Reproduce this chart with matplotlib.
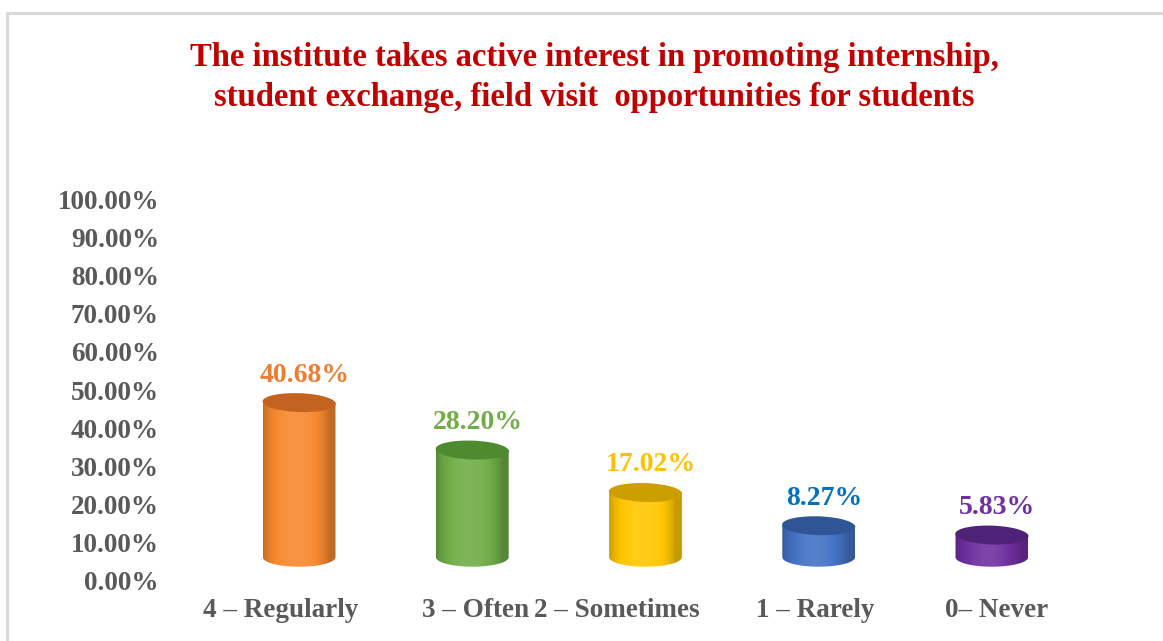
import numpy as np
import matplotlib
matplotlib.use("Agg")
import matplotlib.pyplot as plt
from matplotlib.colors import to_rgb
from matplotlib.lines import Line2D
from matplotlib.patches import Ellipse, Polygon
from matplotlib.transforms import ScaledTranslation

categories = ["4 – Regularly", "3 – Often", "2 – Sometimes", "1 – Rarely", "0– Never"]
values = [40.68, 28.20, 17.02, 8.27, 5.83]
value_labels = ["40.68%", "28.20%", "17.02%", "8.27%", "5.83%"]
y_ticks = [0, 10, 20, 30, 40, 50, 60, 70, 80, 90, 100]

side_colors = ["#F7892F", "#70AD47", "#FFC700", "#4472C4", "#7030A0"]
top_colors = ["#C4631F", "#4E8A30", "#CC9E00", "#2F5597", "#4E2277"]
label_colors = ["#ED7D31", "#70AD47", "#FFC000", "#0070C0", "#7030A0"]
# small horizontal nudges (px) of the category labels, as laid out in the original
label_shift_px = [-19, 3, -29, -3, 5]

TITLE = ("The institute takes active interest in promoting internship,\n"
         "student exchange, field visit  opportunities for students")

FLOOR = 6.0      # 3D floor offset in data units
BAR_W = 0.42     # cylinder width in category units
ELL_H = 5.0      # ellipse height in data units
GRAY = "#595959"

W, H = 1163, 641
fig = plt.figure(figsize=(W / 100, H / 100), dpi=100)
fig.patch.set_facecolor("white")

# axes placed in pixel terms
ax_left, ax_right, ax_top, ax_bottom = 170, 1120, 200, 580
ax = fig.add_axes([ax_left / W, 1 - ax_bottom / H, (ax_right - ax_left) / W, (ax_bottom - ax_top) / H])
ax.set_facecolor("none")

font = "Liberation Serif"


def shade(color, factor):
    r, g, b = to_rgb(color)
    if factor >= 1:
        return tuple(c + (1 - c) * (factor - 1) for c in (r, g, b))
    return tuple(c * factor for c in (r, g, b))


def draw_cylinder(ax, x, val, side, top):
    left, right = x - BAR_W / 2, x + BAR_W / 2
    y0, y1 = FLOOR, FLOOR + val
    t = np.linspace(0, 1, 200)
    # brightness profile across the cylinder
    prof = 0.78 + 0.32 * np.sin(np.pi * np.clip(t * 1.1, 0, 1)) ** 0.7
    img = np.array([[shade(side, f) for f in prof]])
    img = np.clip(img, 0, 1)

    ang = np.linspace(np.pi, 2 * np.pi, 60)
    arc_x = x + BAR_W / 2 * np.cos(ang)
    arc_y = y0 + ELL_H / 2 * np.sin(ang)
    pts = [(left, y1)] + list(zip(arc_x, arc_y)) + [(right, y1)]
    clip = Polygon(pts, closed=True, facecolor="none", edgecolor="none", transform=ax.transData)
    ax.add_patch(clip)
    im = ax.imshow(img, extent=(left, right, y0 - ELL_H / 2, y1), aspect="auto",
                   interpolation="bilinear", zorder=2)
    im.set_clip_path(clip)
    ax.add_patch(Ellipse((x, y1), BAR_W, ELL_H, angle=0.6, facecolor=top, edgecolor="none", zorder=3))


for i, (v, s, tc) in enumerate(zip(values, side_colors, top_colors)):
    draw_cylinder(ax, i, v, s, tc)
    ax.annotate(value_labels[i], xy=(i + 0.03, FLOOR + v + ELL_H / 2), xytext=(0, 4),
                textcoords="offset points", ha="center", va="bottom",
                fontsize=20, fontweight="bold", color=label_colors[i], family=font)

x_left = -(299 - ax_left) / 173
x_right = 4 + (ax_right - 992) / 173
ax.set_xlim(x_left, x_right)
ax.set_ylim(0, 100)

ax.set_yticks(y_ticks)
ax.set_yticklabels([f"{t:.2f}%" for t in y_ticks])
ax.set_xticks(range(len(categories)))
ax.set_xticklabels(categories)
ax.tick_params(axis="both", length=0, colors=GRAY)
ax.tick_params(axis="y", pad=8)
ax.tick_params(axis="x", pad=13)
for lab in ax.get_yticklabels() + ax.get_xticklabels():
    lab.set_fontfamily(font)
    lab.set_fontweight("bold")
    lab.set_fontsize(19.5)
for lab, dx in zip(ax.get_xticklabels(), label_shift_px):
    lab.set_transform(lab.get_transform() + ScaledTranslation(dx / 100, 0, fig.dpi_scale_trans))
for s in ax.spines.values():
    s.set_visible(False)

fig.text(594 / W, 1 - 42 / H, TITLE, ha="center", va="top", fontsize=23.5, fontweight="bold",
         color="#C00000", family=font, linespacing=1.38)

# chart frame
fig.add_artist(Line2D([7 / W, 7 / W], [0, 1 - 13 / H], color="#D9D9D9", lw=2.2, transform=fig.transFigure))
fig.add_artist(Line2D([7 / W, 1], [1 - 13 / H, 1 - 13 / H], color="#D9D9D9", lw=2.2, transform=fig.transFigure))

fig.savefig("out.png", dpi=100)
